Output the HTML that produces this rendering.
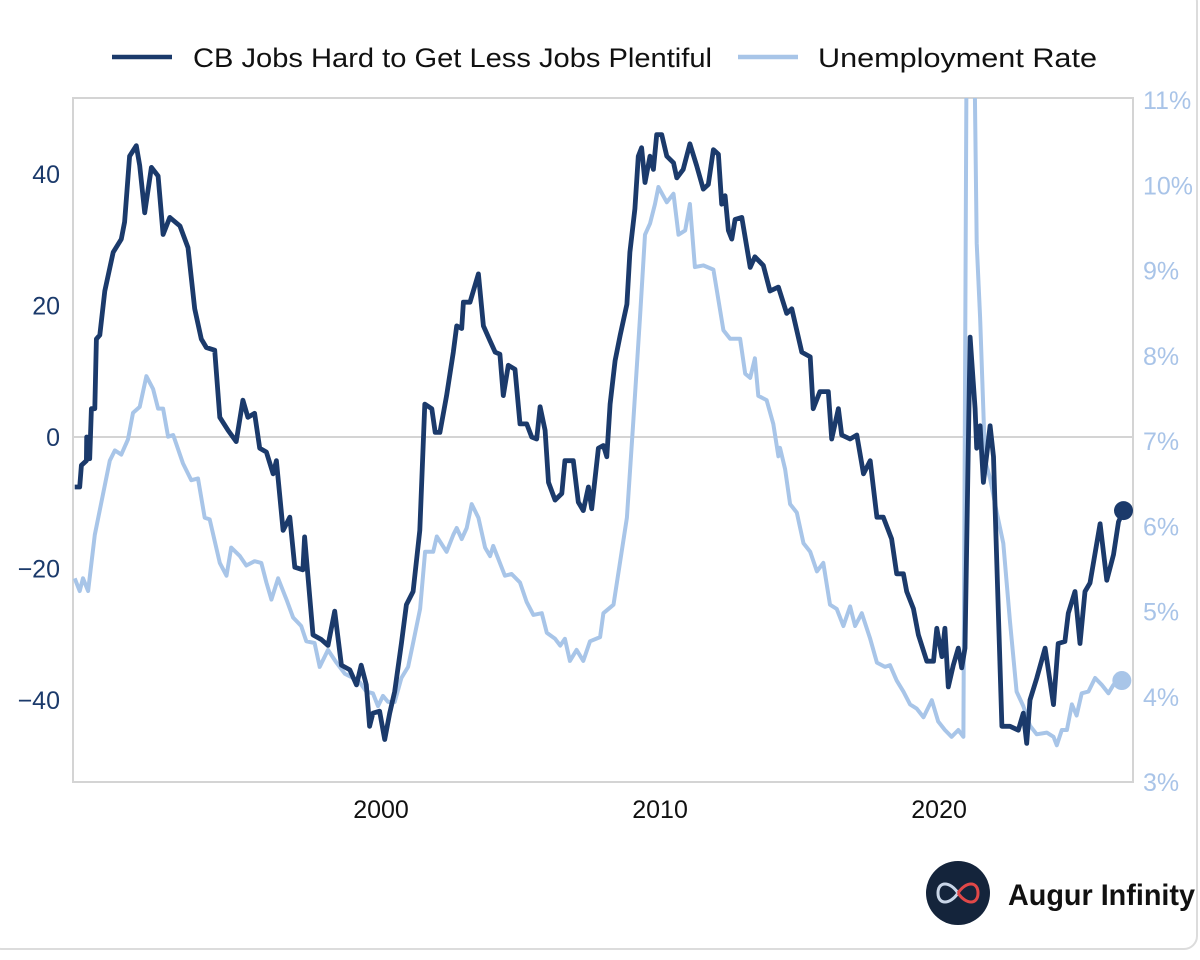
<!DOCTYPE html>
<html><head><meta charset="utf-8">
<style>
html,body{margin:0;padding:0;background:#fff;}
body{width:1200px;height:960px;overflow:hidden;position:relative;font-family:"Liberation Sans",sans-serif;}
#card{position:absolute;left:-12px;top:-12px;width:1210px;height:962px;border:2px solid #dcdcdc;border-radius:14px;box-sizing:border-box;}
svg{position:absolute;left:0;top:0;}
</style></head>
<body>
<div id="card"></div>
<svg id="chart" width="1200" height="960"></svg>
<script>
const cbDates=[1989.02,1989.20,1989.26,1989.44,1989.45,1989.56,1989.62,1989.74,1989.80,1989.92,1990.10,1990.40,1990.69,1990.81,1990.99,1991.23,1991.35,1991.53,1991.77,1992.01,1992.19,1992.43,1992.79,1993.08,1993.32,1993.56,1993.74,1994.04,1994.22,1994.52,1994.81,1995.05,1995.23,1995.47,1995.65,1995.89,1996.13,1996.25,1996.49,1996.73,1996.91,1997.20,1997.26,1997.44,1997.56,1997.86,1998.10,1998.34,1998.58,1998.88,1999.12,1999.29,1999.47,1999.59,1999.71,1999.95,2000.13,2000.31,2000.49,2000.73,2000.91,2001.15,2001.39,2001.57,2001.82,2001.94,2002.11,2002.35,2002.59,2002.71,2002.89,2002.95,2003.19,2003.49,2003.67,2003.91,2004.09,2004.26,2004.38,2004.56,2004.80,2004.98,2005.22,2005.40,2005.58,2005.70,2005.88,2006.00,2006.24,2006.48,2006.59,2006.89,2007.07,2007.25,2007.43,2007.55,2007.79,2007.97,2008.09,2008.21,2008.39,2008.57,2008.81,2008.92,2009.10,2009.22,2009.34,2009.46,2009.64,2009.76,2009.88,2010.06,2010.24,2010.48,2010.60,2010.83,2011.07,2011.31,2011.55,2011.73,2011.91,2012.09,2012.21,2012.33,2012.45,2012.57,2012.69,2012.93,2013.23,2013.40,2013.70,2013.94,2014.24,2014.54,2014.72,2015.08,2015.38,2015.49,2015.73,2016.03,2016.15,2016.39,2016.51,2016.81,2017.05,2017.29,2017.53,2017.77,2018.00,2018.30,2018.48,2018.72,2018.84,2019.08,2019.26,2019.56,2019.80,2019.92,2020.10,2020.21,2020.33,2020.51,2020.69,2020.81,2020.93,2021.11,2021.29,2021.35,2021.47,2021.59,2021.71,2021.83,2021.95,2022.25,2022.54,2022.84,2023.02,2023.14,2023.26,2023.50,2023.80,2024.10,2024.27,2024.51,2024.63,2024.87,2025.05,2025.23,2025.41,2025.77,2026.01,2026.25,2026.43,2026.61];
const cbValues=[-7.6,-7.6,-4.3,-3.6,0,-3.3,4.3,4.3,14.9,15.5,22.2,28.1,30.1,32.7,42.7,44.3,41.3,34.1,41.0,39.7,30.8,33.4,32.1,28.8,19.5,14.9,13.6,13.2,3.0,1.0,-0.7,5.6,3.0,3.6,-1.7,-2.3,-5.6,-3.6,-14.2,-12.2,-19.8,-20.2,-15.2,-24.1,-30.1,-30.8,-31.7,-26.5,-34.7,-35.4,-37.7,-34.7,-37.7,-44.0,-42.0,-41.7,-46.0,-42.0,-38.7,-31.4,-25.5,-23.5,-14.2,5.0,4.3,0.7,0.7,6.3,12.9,16.9,16.5,20.5,20.5,24.8,16.9,14.6,12.9,12.6,6.3,10.9,10.3,2.0,2.0,0,-0.3,4.6,1.0,-6.9,-9.6,-8.6,-3.6,-3.6,-9.9,-11.2,-7.6,-10.9,-1.7,-1.3,-3.0,5.0,11.6,15.5,20.2,28.1,34.7,42.7,44.0,38.7,42.7,40.7,46.0,46.0,42.7,41.7,39.4,40.7,44.6,41.3,37.7,38.4,43.7,43.0,35.4,36.7,31.4,30.1,33.1,33.4,25.8,27.4,26.1,22.2,22.8,18.8,19.5,12.9,12.2,4.3,6.9,6.9,-0.3,4.3,0.3,-0.3,0.3,-5.6,-3.6,-12.2,-12.2,-15.5,-20.8,-20.8,-23.5,-26.1,-30.1,-34.1,-34.1,-29.1,-33.4,-29.1,-38.0,-34.7,-32.1,-35.1,-32.1,15.2,4.3,-1.7,1.7,-6.9,-2.6,1.7,-3.0,-44.0,-44.0,-44.6,-42.0,-46.6,-40.0,-36.7,-32.1,-40.7,-31.4,-31.1,-26.8,-23.5,-31.4,-23.5,-22.2,-13.2,-21.8,-17.9,-12.9,-11.2];
const urDates=[1989.02,1989.20,1989.32,1989.50,1989.74,1990.28,1990.46,1990.69,1990.93,1991.11,1991.35,1991.59,1991.83,1992.01,1992.19,1992.37,1992.55,1992.90,1993.20,1993.44,1993.68,1993.86,1994.22,1994.46,1994.63,1994.94,1995.17,1995.47,1995.71,1995.89,1996.07,1996.31,1996.61,1996.85,1997.14,1997.32,1997.62,1997.80,1998.10,1998.40,1998.70,1999.00,1999.24,1999.47,1999.71,1999.89,2000.07,2000.25,2000.49,2000.73,2000.97,2001.15,2001.40,2001.58,2001.87,2002.00,2002.35,2002.59,2002.71,2002.89,2003.07,2003.25,2003.49,2003.73,2003.91,2004.02,2004.20,2004.44,2004.68,2004.98,2005.22,2005.46,2005.76,2005.94,2006.24,2006.42,2006.59,2006.77,2007.01,2007.25,2007.49,2007.85,2007.97,2008.33,2008.57,2008.81,2009.04,2009.28,2009.46,2009.64,2009.82,2009.94,2010.24,2010.48,2010.66,2010.90,2011.07,2011.25,2011.55,2011.91,2012.27,2012.51,2012.87,2013.05,2013.23,2013.40,2013.52,2013.82,2014.06,2014.24,2014.30,2014.48,2014.66,2014.90,2015.14,2015.38,2015.62,2015.85,2016.09,2016.33,2016.57,2016.81,2016.99,2017.23,2017.53,2017.77,2018.06,2018.24,2018.48,2018.72,2018.96,2019.20,2019.44,2019.74,2019.97,2020.21,2020.45,2020.69,2020.87,2021.03,2021.23,2021.35,2021.47,2021.65,2021.83,2022.07,2022.30,2022.54,2022.78,2023.02,2023.26,2023.50,2023.86,2024.10,2024.22,2024.40,2024.58,2024.76,2024.93,2025.11,2025.35,2025.59,2025.83,2026.07,2026.25,2026.55];
const urValues=[5.39,5.24,5.39,5.24,5.90,6.77,6.89,6.84,7.02,7.33,7.40,7.76,7.61,7.38,7.38,7.05,7.07,6.74,6.54,6.56,6.10,6.08,5.57,5.42,5.75,5.65,5.54,5.59,5.57,5.34,5.14,5.39,5.14,4.93,4.83,4.65,4.63,4.35,4.55,4.40,4.27,4.22,4.17,4.06,4.04,3.89,4.01,3.94,3.94,4.22,4.35,4.63,5.03,5.70,5.70,5.88,5.70,5.90,5.98,5.85,5.98,6.26,6.10,5.75,5.65,5.77,5.62,5.42,5.44,5.34,5.11,4.96,4.98,4.75,4.68,4.60,4.68,4.42,4.55,4.42,4.65,4.70,4.98,5.08,5.59,6.10,7.23,8.45,9.42,9.55,9.78,9.98,9.80,9.90,9.42,9.47,9.78,9.04,9.06,9.01,8.30,8.20,8.20,7.79,7.74,7.97,7.53,7.48,7.20,6.82,6.92,6.67,6.26,6.16,5.80,5.70,5.47,5.57,5.08,5.03,4.83,5.06,4.83,4.98,4.68,4.40,4.35,4.37,4.19,4.06,3.91,3.86,3.76,3.96,3.71,3.61,3.53,3.61,3.53,14.7,12.5,9.32,8.45,6.77,6.56,6.16,5.80,4.88,4.06,3.89,3.66,3.56,3.58,3.53,3.43,3.61,3.61,3.91,3.78,4.04,4.06,4.22,4.14,4.04,4.14,4.19];
const leftTicks=[-40,-20,0,20,40];
const leftTickLabels=["\u221240","\u221220","0","20","40"];
const rightTicks=[3,4,5,6,7,8,9,10,11];
const xTicks=[2000,2010,2020];

const NS="http://www.w3.org/2000/svg";
const svg=document.getElementById('chart');
const PL=73,PR=1133,PT=98,PB=782;
const X0=1988.96,X1=2026.95;
function xs(t){return PL+(t-X0)/(X1-X0)*(PR-PL);}
function yl(v){return 437-v*6.575;}
function yr(u){return 782-(u-3)*85.25;}
function mk(tag,attrs){const e=document.createElementNS(NS,tag);for(const k in attrs)e.setAttribute(k,attrs[k]);svg.appendChild(e);return e;}

const defs=mk('defs',{});
const cp=document.createElementNS(NS,'clipPath');cp.setAttribute('id','pc');
const cr=document.createElementNS(NS,'rect');cr.setAttribute('x',PL);cr.setAttribute('y',PT);cr.setAttribute('width',PR-PL+20);cr.setAttribute('height',PB-PT);
cp.appendChild(cr);defs.appendChild(cp);

let e;
e=mk('line',{x1:PL,y1:yl(0),x2:PR,y2:yl(0),stroke:'#d4d4d4','stroke-width':2});


e=mk('rect',{x:PL,y:PT,width:PR-PL,height:PB-PT,fill:'none',stroke:'#d4d4d4','stroke-width':2});



leftTicks.forEach((v,i)=>{
  const t=mk('text',{x:60,y:yl(v)+9,'text-anchor':'end','font-size':25,fill:'#1b3a6b','font-family':'Liberation Sans, sans-serif'});
  t.textContent=leftTickLabels[i];
  
  
});
rightTicks.forEach(u=>{
  const t=mk('text',{x:1143,y:yr(u)+9,'text-anchor':'start','font-size':25,fill:'#a9c4e8','font-family':'Liberation Sans, sans-serif'});
  t.textContent=u+'%';
  
  
});
xTicks.forEach(y=>{
  const t=mk('text',{x:xs(y),y:818,'text-anchor':'middle','font-size':25,fill:'#111','font-family':'Liberation Sans, sans-serif'});
  t.textContent=String(y);
  
  
});

function path(ds,vs,f){return ds.map((d,i)=>(i?'L':'M')+xs(d).toFixed(1)+','+f(vs[i]).toFixed(1)).join('');}
e=mk('path',{d:path(urDates,urValues,yr),fill:'none',stroke:'#a8c5e8','stroke-width':4,'stroke-linejoin':'round','clip-path':'url(#pc)'});


e=mk('path',{d:path(cbDates,cbValues,yl),fill:'none',stroke:'#1b3a6b','stroke-width':4.8,'stroke-linejoin':'round','clip-path':'url(#pc)'});


let n=urDates.length-1;
e=mk('circle',{cx:xs(urDates[n]),cy:yr(urValues[n]),r:9.5,fill:'#a8c5e8'});


n=cbDates.length-1;
e=mk('circle',{cx:xs(cbDates[n]),cy:yl(cbValues[n]),r:9.5,fill:'#1b3a6b'});



// legend
e=mk('line',{x1:112,y1:57,x2:172,y2:57,stroke:'#1b3a6b','stroke-width':4.5});


e=mk('text',{x:193,y:67,'font-size':27,fill:'#111','font-family':'Liberation Sans, sans-serif',textLength:519,lengthAdjust:'spacingAndGlyphs'});
e.textContent='CB Jobs Hard to Get Less Jobs Plentiful';


e=mk('line',{x1:738,y1:57,x2:798,y2:57,stroke:'#a8c5e8','stroke-width':4.5});


e=mk('text',{x:818,y:67,'font-size':27,fill:'#111','font-family':'Liberation Sans, sans-serif',textLength:279,lengthAdjust:'spacingAndGlyphs'});
e.textContent='Unemployment Rate';



// logo
e=mk('circle',{cx:958,cy:893,r:32,fill:'#14243b'});


e=mk('path',{d:'M958,893 C950,881 938,881 938,893 C938,905 950,905 958,893',fill:'none',stroke:'#c9d6e8','stroke-width':3});


e=mk('path',{d:'M958,893 C966,881 978,881 978,893 C978,905 966,905 958,893',fill:'none',stroke:'#e04848','stroke-width':3});


e=mk('text',{x:1008,y:905,'font-size':30,'font-weight':'bold',fill:'#111','font-family':'Liberation Sans, sans-serif',textLength:187,lengthAdjust:'spacingAndGlyphs'});
e.textContent='Augur Infinity';


</script>
</body></html>
